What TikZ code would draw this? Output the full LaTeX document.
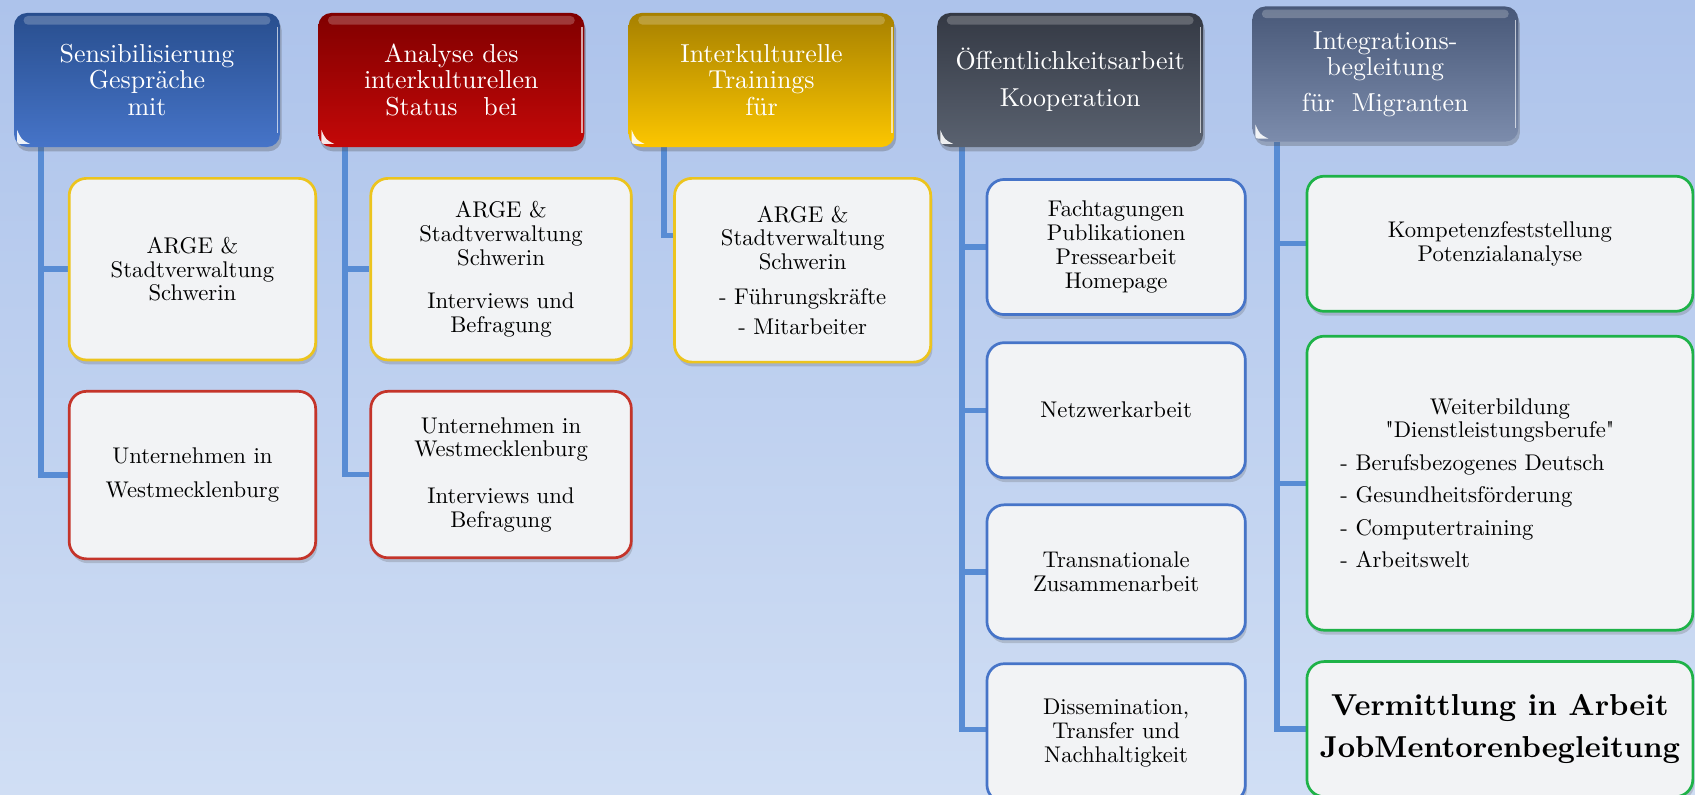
\documentclass[tikz,border=0pt]{standalone}
\usepackage{fontspec}
\setmainfont{lmroman10-regular.otf}[BoldFont=lmroman10-bold.otf, Ligatures=TeXOff]
\usetikzlibrary{shadows,calc}
\definecolor{bgtop}{RGB}{173,195,235}
\definecolor{bgbot}{RGB}{208,222,244}
\definecolor{conn}{RGB}{88,140,212}
\definecolor{boxfill}{RGB}{242,243,245}
\definecolor{byel}{RGB}{236,196,30}
\definecolor{bred}{RGB}{196,52,42}
\definecolor{bblue}{RGB}{70,116,200}
\definecolor{bgreen}{RGB}{30,178,72}
\definecolor{hbluetop}{RGB}{40,78,142}
\definecolor{hbluebot}{RGB}{70,116,200}
\definecolor{hredtop}{RGB}{128,0,0}
\definecolor{hredbot}{RGB}{196,8,8}
\definecolor{hyeltop}{RGB}{166,128,0}
\definecolor{hyelbot}{RGB}{252,198,0}
\definecolor{hdarktop}{RGB}{52,57,68}
\definecolor{hdarkbot}{RGB}{90,98,112}
\definecolor{hslatetop}{RGB}{72,88,120}
\definecolor{hslatebot}{RGB}{124,140,172}
\pgfdeclarelayer{bglayer}
\pgfdeclarelayer{linklayer}
\pgfsetlayers{bglayer,linklayer,main}
\tikzset{
  hdr/.style 2 args={rounded corners=12pt, top color=#1, bottom color=#2,
    minimum width=246pt, minimum height=124pt, text=white, align=center,
    font=\fontsize{24}{24.5}\selectfont, inner sep=2pt,
    drop shadow={shadow xshift=1.5pt, shadow yshift=-4pt, opacity=0.3, fill=black!70}},
  cbox/.style={draw=#1, line width=2.5pt, fill=boxfill, rounded corners=16pt,
    align=center, font=\fontsize{21}{22}\selectfont, inner sep=3pt, text=black,
    drop shadow={shadow xshift=1.5pt, shadow yshift=-4pt, opacity=0.22, fill=black!70}},
  link/.style={draw=conn, line width=5pt},
}
\newcommand\hdrgloss[1]{%
  \fill[white,opacity=0.22,rounded corners=4pt]
    ([xshift=9pt,yshift=-3pt]#1.north west) rectangle ([xshift=-9pt,yshift=-11pt]#1.north east);
  \draw[white,opacity=0.65,line width=1.3pt]
    ([xshift=-2.5pt,yshift=-13pt]#1.north east) -- ([xshift=-2.5pt,yshift=13pt]#1.south east);
  \fill[white,opacity=0.9]
    ([xshift=3pt,yshift=16pt]#1.south west) -- ([xshift=3pt,yshift=8pt]#1.south west)
    .. controls ([xshift=3pt,yshift=3pt]#1.south west) .. ([xshift=8pt,yshift=3pt]#1.south west)
    -- ([xshift=15pt,yshift=3pt]#1.south west)
    .. controls ([xshift=7pt,yshift=7pt]#1.south west) .. ([xshift=3pt,yshift=16pt]#1.south west) -- cycle;
}
\newcommand\lline[1]{\makebox[295pt][l]{#1}}
\begin{document}
\begin{tikzpicture}[x=1pt,y=-1pt]
\useasboundingbox (0,0) rectangle (1568,735);
\clip (0,0) rectangle (1568,735);
\begin{pgfonlayer}{bglayer}
  \shade[top color=bgtop, bottom color=bgbot] (0,0) rectangle (1568,735);
\end{pgfonlayer}

% headers
\node[hdr={hbluetop}{hbluebot}] (h1) at (136,74) {Sensibilisierung\\Gespräche\\mit};
\node[hdr={hredtop}{hredbot}] (h2) at (417.5,74) {Analyse des\\interkulturellen\\Status~~~bei};
\node[hdr={hyeltop}{hyelbot}] (h3) at (704.5,74) {Interkulturelle\\Trainings\\für};
\node[hdr={hdarktop}{hdarkbot}] (h4) at (990,74) {Öffentlichkeitsarbeit\\[10pt]Kooperation};
\node[hdr={hslatetop}{hslatebot}, minimum height=125pt] (h5) at (1281.5,68.5) {Integrations-\\begleitung\\[8pt]für~~Migranten};
\hdrgloss{h1}\hdrgloss{h2}\hdrgloss{h3}\hdrgloss{h4}\hdrgloss{h5}

% column 1
\node[cbox=byel, minimum width=228pt, minimum height=168pt] (c11) at (178,249) {ARGE \&\\Stadtverwaltung\\Schwerin};
\node[cbox=bred, minimum width=228pt, minimum height=155pt] (c12) at (178,439.5) {Unternehmen in\\[9pt]Westmecklenburg};
% column 2
\node[cbox=byel, minimum width=241pt, minimum height=168pt] (c21) at (463.5,249) {ARGE \&\\Stadtverwaltung\\Schwerin\\[18pt]Interviews und\\Befragung};
\node[cbox=bred, minimum width=241pt, minimum height=154pt] (c22) at (463.5,439) {Unternehmen in\\Westmecklenburg\\[21pt]Interviews und\\Befragung};
% column 3
\node[cbox=byel, minimum width=237pt, minimum height=170pt] (c31) at (742.5,250) {ARGE \&\\Stadtverwaltung\\Schwerin\\[10pt]- Führungskräfte\\[6pt]- Mitarbeiter};
% column 4
\node[cbox=bblue, minimum width=239pt, minimum height=125pt] (c41) at (1032.5,228.5) {Fachtagungen\\Publikationen\\Pressearbeit\\Homepage};
\node[cbox=bblue, minimum width=239pt, minimum height=125pt] (c42) at (1032.5,379.5) {Netzwerkarbeit};
\node[cbox=bblue, minimum width=239pt, minimum height=124pt] (c43) at (1032.5,529) {Transnationale\\Zusammenarbeit};
\node[cbox=bblue, minimum width=239pt, minimum height=128pt] (c44) at (1032.5,678) {Dissemination,\\Transfer und\\Nachhaltigkeit};
% column 5
\node[cbox=bgreen, minimum width=357pt, minimum height=125pt] (c51) at (1387.5,225.5) {Kompetenzfeststellung\\[1pt]Potenzialanalyse};
\node[cbox=bgreen, minimum width=357pt, minimum height=272pt] (c52) at (1387.5,447)
  {Weiterbildung\\"Dienstleistungsberufe"\\[8pt]\lline{- Berufsbezogenes Deutsch}\\[8pt]\lline{- Gesundheitsförderung}\\[8pt]\lline{- Computertraining}\\[8pt]\lline{- Arbeitswelt}};
\node[cbox=bgreen, minimum width=357pt, minimum height=125pt, font=\fontsize{28}{39}\selectfont\bfseries] (c53) at (1387.5,674.5) {Vermittlung in Arbeit\\JobMentorenbegleitung};

% connectors
\coordinate (v1) at ([xshift=25pt]h1.south west);
\coordinate (v2) at ([xshift=25pt]h2.south west);
\coordinate (v3) at ([xshift=33pt]h3.south west);
\coordinate (v4) at ([xshift=23pt]h4.south west);
\coordinate (v5) at ([xshift=23pt]h5.south west);
\begin{pgfonlayer}{linklayer}
  \draw[link] (v1) |- (c11.west);
  \draw[link] (v1) |- (c12.west);
  \draw[link] (v2) |- (c21.west);
  \draw[link] (v2) |- (c22.west);
  \draw[link] (v3) |- ([yshift=32pt]c31.west);
  \draw[link] (v4) |- (c41.west);
  \draw[link] (v4) |- (c42.west);
  \draw[link] (v4) |- (c43.west);
  \draw[link] (v4) |- ([yshift=3pt]c44.west);
  \draw[link] (v5) |- (c51.west);
  \draw[link] (v5) |- (c52.west);
  \draw[link] (v5) |- (c53.west);
\end{pgfonlayer}
\end{tikzpicture}
\end{document}
